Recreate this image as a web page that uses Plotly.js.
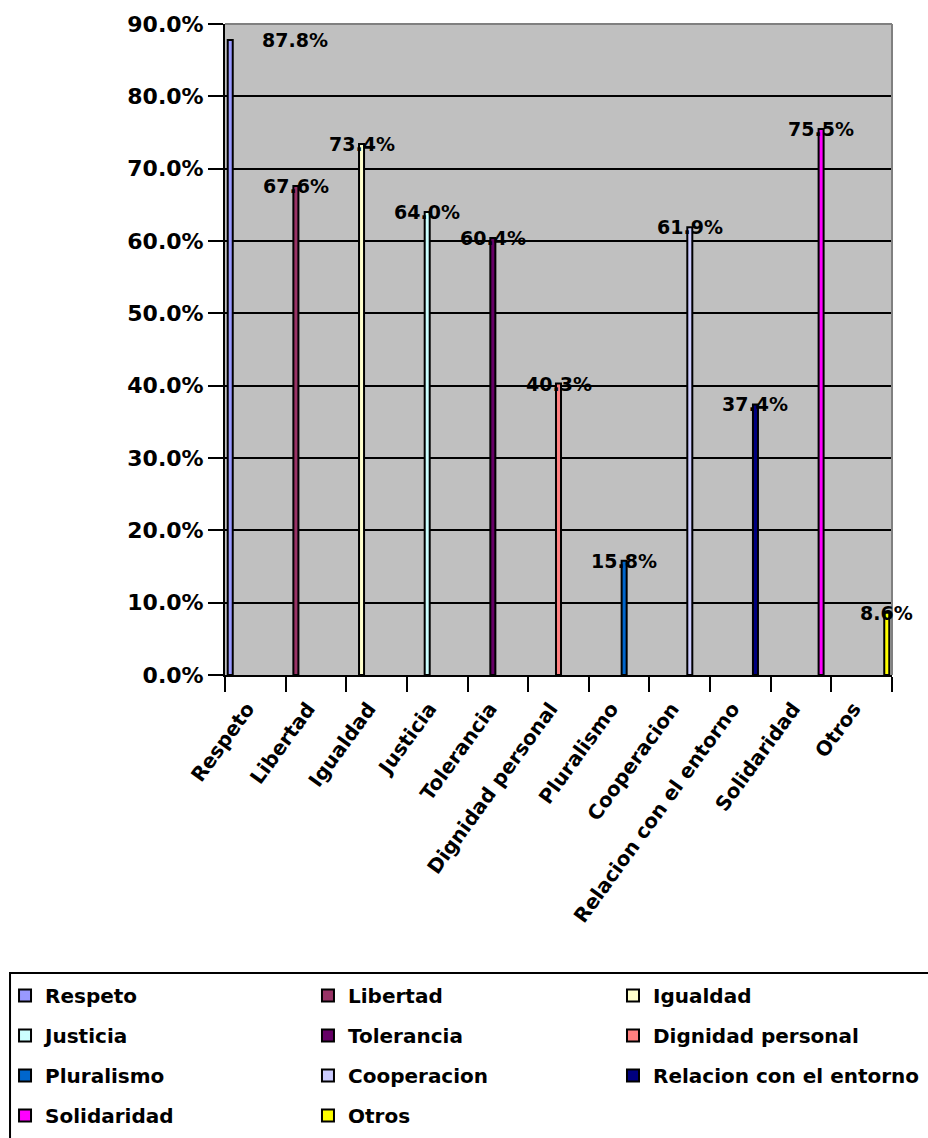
<!DOCTYPE html>
<html>
<head>
<meta charset="utf-8">
<script src="https://cdn.plot.ly/plotly-3.0.1.min.js"></script>
<style>html,body{margin:0;padding:0;background:#fff;}#chart{width:928px;height:1138px;}</style>
</head>
<body>
<div id="chart"></div>
<script>
// ---- data ----
const categories = ["Respeto","Libertad","Igualdad","Justicia","Tolerancia","Dignidad personal","Pluralismo","Cooperacion","Relacion con el entorno","Solidaridad","Otros"];
const values = [0.878, 0.676, 0.734, 0.640, 0.604, 0.403, 0.158, 0.619, 0.374, 0.755, 0.086];
const valueLabels = ["87.8%","67.6%","73.4%","64.0%","60.4%","40.3%","15.8%","61.9%","37.4%","75.5%","8.6%"];
const colors = ["#9999FF","#993366","#FFFFCC","#CCFFFF","#660066","#FF8080","#0066CC","#CCCCFF","#000080","#FF00FF","#FFFF00"];
const legendColumn = ["legend","legend2","legend3","legend","legend2","legend3","legend","legend2","legend3","legend","legend2"];
const yTicks = [0,0.1,0.2,0.3,0.4,0.5,0.6,0.7,0.8,0.9];

// ---- style ----
const FONT = "DejaVu Sans";
const N = categories.length;
const BARGAP = 0.09;
const groupW = 1 - BARGAP;
const barW = groupW / N;

const traces = categories.map((c, i) => ({
  type: "bar",
  name: c,
  x: [c],
  y: [values[i]],
  width: barW,
  offset: -groupW / 2 + i * barW,
  marker: {color: colors[i], line: {color: "#000000", width: 2}},
  legend: legendColumn[i],
  legendgroup: "g" + i,
  hoverinfo: "x+y"
}));

const annotations = categories.map((c, i) => ({
  x: i - groupW / 2 + (i + 0.5) * barW,
  y: values[i],
  xref: "x", yref: "y",
  text: valueLabels[i],
  showarrow: false,
  xanchor: "center", yanchor: "middle",
  xshift: i === 0 ? 65 : 0,
  font: {family: FONT, size: 19, color: "#000", weight: "bold"}
}));

const legendBase = {
  orientation: "v",
  yanchor: "top", xanchor: "left",
  y: -0.4624,
  bgcolor: "rgba(0,0,0,0)",
  borderwidth: 0,
  tracegroupgap: 11,
  font: {family: FONT, size: 20, color: "#000", weight: "bold"}
};

const layout = {
  width: 928, height: 1138,
  margin: {l: 225, r: 36, t: 24, b: 463, autoexpand: false},
  paper_bgcolor: "#ffffff",
  plot_bgcolor: "#C0C0C0",
  barmode: "overlay",
  showlegend: true,
  legend: Object.assign({}, legendBase, {x: -0.3298}),
  legend2: Object.assign({}, legendBase, {x: 0.1244}),
  legend3: Object.assign({}, legendBase, {x: 0.5817}),
  xaxis: {
    type: "category",
    categoryorder: "array", categoryarray: categories,
    range: [-0.5, N - 0.5],
    tickson: "boundaries",
    ticks: "outside", ticklen: 15, tickwidth: 2, tickcolor: "#000",
    showline: true, linecolor: "#000", linewidth: 2,
    showgrid: false,
    tickangle: -54,
    ticklabelstandoff: 12,
    ticklabelshift: -8,
    tickfont: {family: FONT, size: 20, color: "#000", weight: "bold"}
  },
  yaxis: {
    range: [0, 0.9],
    tickvals: yTicks,
    tickformat: ".1%",
    ticks: "outside", ticklen: 15, tickwidth: 2, tickcolor: "#000",
    showline: true, linecolor: "#000", linewidth: 2,
    showgrid: true, gridcolor: "#000", gridwidth: 2,
    zeroline: false,
    tickfont: {family: FONT, size: 22, color: "#000", weight: "bold"}
  },
  annotations: annotations,
  shapes: [
    {type: "line", xref: "paper", yref: "paper", x0: 0, x1: 1, y0: 1, y1: 1, line: {color: "#808080", width: 2}},
    {type: "line", xref: "paper", yref: "paper", x0: 1, x1: 1, y0: 0, y1: 1, line: {color: "#808080", width: 2}},
    {type: "rect", xref: "paper", yref: "paper", x0: -0.3223, x1: 1.1, y0: -0.4578, y1: -0.75, line: {color: "#000", width: 2}, fillcolor: "rgba(0,0,0,0)"}
  ]
};

Plotly.newPlot("chart", traces, layout, {displayModeBar: false, staticPlot: true});
</script>
</body>
</html>
